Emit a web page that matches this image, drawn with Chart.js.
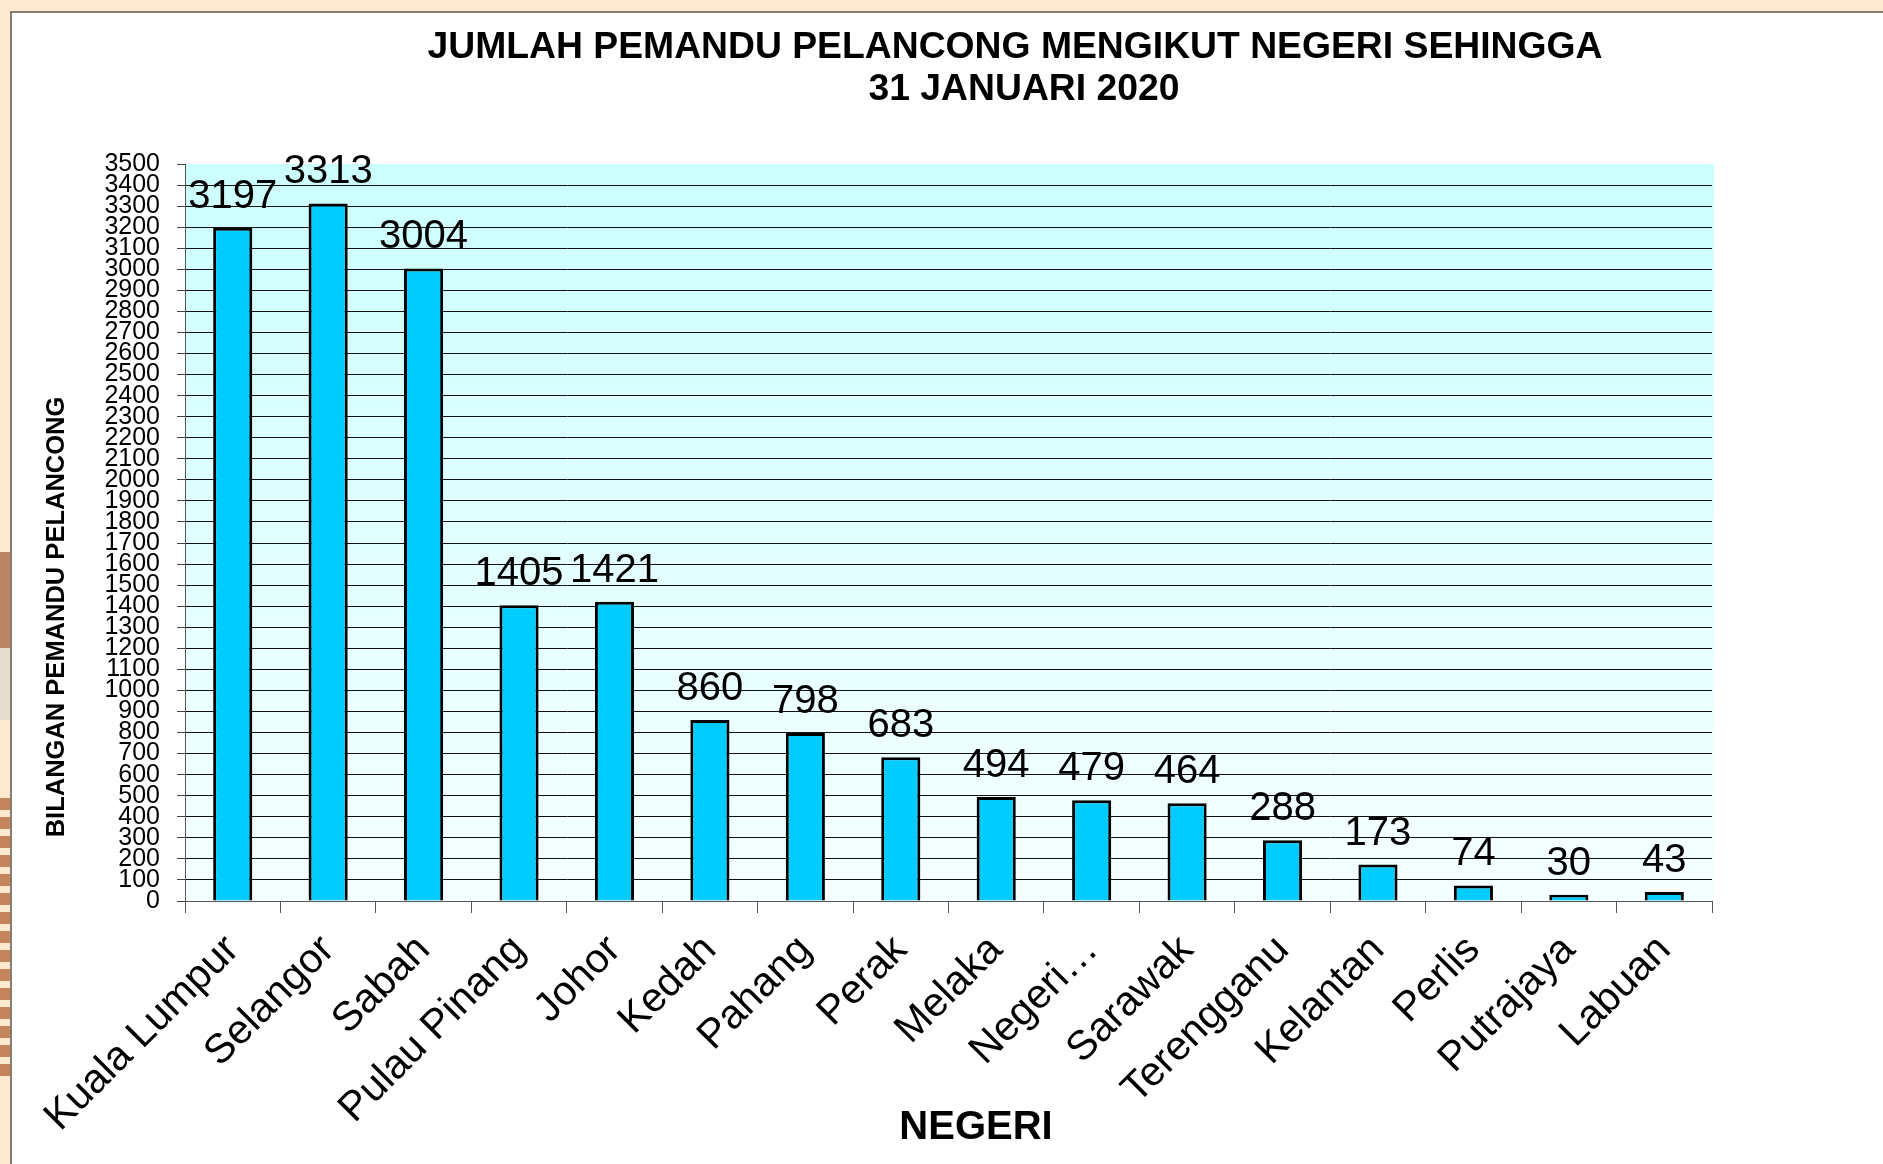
<!DOCTYPE html>
<html>
<head>
<meta charset="utf-8">
<script src="https://cdn.jsdelivr.net/npm/chart.js@4/dist/chart.umd.min.js"></script>
<style>
  body { margin: 0; background: #fde9d0; overflow: hidden; }
  .stripes { position: absolute; left: 0; top: 798px; width: 10px; height: 278px;
    background: repeating-linear-gradient(to bottom, #c4855a 0px, #c4855a 12px, #fde9d0 12px, #fde9d0 19px); }
  .wedge { position: absolute; left: 0; top: 552px; width: 10px; height: 96px; background: #b98563; }
  .wedge2 { position: absolute; left: 0; top: 648px; width: 10px; height: 72px; background: #e6ddd0; }
  .panel { position: absolute; left: 10px; top: 11px; width: 1900px; height: 1200px;
    background: #fff; border: 2px solid #857d75; }
  #chart { position: absolute; left: 0; top: 0; }
</style>
</head>
<body>
<div class="wedge"></div>
<div class="wedge2"></div>
<div class="stripes"></div>
<div class="panel"></div>
<canvas id="chart" width="1883" height="1164"></canvas>
<script>
const negeri = ["Kuala Lumpur", "Selangor", "Sabah", "Pulau Pinang", "Johor", "Kedah", "Pahang",
  "Perak", "Melaka", "Negeri…", "Sarawak", "Terengganu", "Kelantan", "Perlis", "Putrajaya", "Labuan"];
const jumlah = [3197, 3313, 3004, 1405, 1421, 860, 798, 683, 494, 479, 464, 288, 173, 74, 30, 43];
const titleLines = ["JUMLAH PEMANDU PELANCONG MENGIKUT NEGERI SEHINGGA", "31 JANUARI 2020"];
const yTitle = "BILANGAN PEMANDU PELANCONG";
const xTitle = "NEGERI";

const FONT = "'Liberation Sans', Arial, sans-serif";

// latar belakang kawasan plot (kecerunan cyan)
const plotBg = {
  id: "plotBg",
  beforeDraw(chart) {
    const { ctx, chartArea: a } = chart;
    const g = ctx.createLinearGradient(0, a.top, 0, a.bottom);
    g.addColorStop(0, "#ccffff");
    g.addColorStop(1, "#f6ffff");
    ctx.save();
    ctx.fillStyle = g;
    ctx.fillRect(a.left, a.top, a.right - a.left + 2, a.bottom - a.top);
    ctx.restore();
  },
};

// label nilai di atas bar
const valueLabels = {
  id: "valueLabels",
  afterDatasetsDraw(chart) {
    const { ctx } = chart;
    const meta = chart.getDatasetMeta(0);
    ctx.save();
    ctx.font = "40px " + FONT;
    ctx.fillStyle = "#000";
    ctx.textAlign = "center";
    ctx.textBaseline = "alphabetic";
    meta.data.forEach((bar, i) => {
      ctx.fillText(String(jumlah[i]), bar.x, bar.y - 20);
    });
    ctx.restore();
  },
};

// tajuk carta dan tajuk paksi
const titles = {
  id: "titles",
  afterDraw(chart) {
    const { ctx } = chart;
    ctx.save();
    ctx.fillStyle = "#000";
    ctx.textAlign = "center";
    ctx.textBaseline = "middle";
    ctx.font = "bold 37.3px " + FONT;
    ctx.fillText(titleLines[0], 1015, 47.5);
    ctx.fillText(titleLines[1], 1024, 89.5);
    ctx.font = "bold 40px " + FONT;
    ctx.fillText(xTitle, 976, 1128);
    ctx.translate(57, 617);
    ctx.rotate(-Math.PI / 2);
    ctx.font = "bold 25.5px " + FONT;
    ctx.fillText(yTitle, 0, 0);
    ctx.restore();
  },
};

new Chart(document.getElementById("chart"), {
  type: "bar",
  data: {
    labels: negeri,
    datasets: [
      {
        data: jumlah,
        backgroundColor: "#00ccff",
        borderColor: "#000",
        borderWidth: 3,
        barPercentage: 0.41,
        categoryPercentage: 1,
      },
    ],
  },
  options: {
    responsive: false,
    animation: false,
    layout: { padding: { top: 164, right: 171, left: 0, bottom: 0 } },
    plugins: { legend: { display: false }, tooltip: { enabled: false } },
    scales: {
      x: {
        afterFit(scale) { scale.height = 263; },
        grid: { drawOnChartArea: false, tickLength: 12, color: "#555", offset: true },
        border: { color: "#555", width: 1 },
        ticks: {
          color: "#000",
          font: { family: FONT, size: 41 },
          minRotation: 45,
          maxRotation: 45,
          autoSkip: false,
          padding: 13,
        },
      },
      y: {
        min: 0,
        max: 3500,
        afterFit(scale) { scale.width = 185; },
        grid: {
          color: (c) => (c.tick && c.tick.value === 3500 ? "rgba(0,0,0,0)" : "#111"),
          tickColor: "#444",
          tickLength: 8,
          lineWidth: 1,
        },
        border: { color: "#555", width: 1 },
        ticks: {
          stepSize: 100,
          maxTicksLimit: 100,
          autoSkip: false,
          color: "#000",
          font: { family: FONT, size: 25 },
          padding: 17,
          callback: (v) => String(v),
        },
      },
    },
  },
  plugins: [plotBg, valueLabels, titles],
});
</script>
</body>
</html>
